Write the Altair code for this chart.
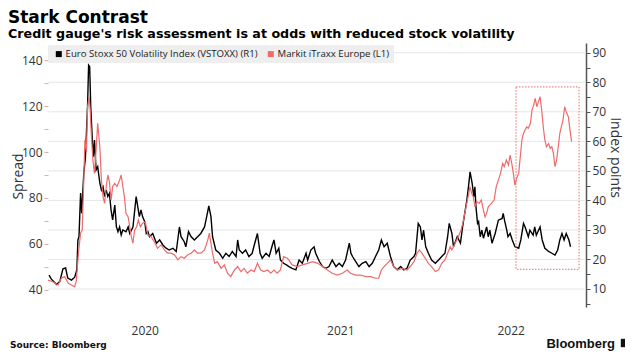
import altair as alt
import pandas as pd

# ---------------- data ----------------
vstoxx = [
("2020-01-03",14.7),("2020-01-07",13.4),("2020-01-17",11.5),("2020-01-23",12.5),("2020-01-29",16.8),("2020-02-03",17.1),("2020-02-07",13.7),("2020-02-14",13.0),("2020-02-20",14.0),("2020-02-24",16.5),("2020-02-26",26.6),("2020-02-28",27.7),("2020-03-02",42.5),("2020-03-04",35.7),("2020-03-08",49.3),("2020-03-11",54.4),("2020-03-15",71.7),("2020-03-17",85.8),("2020-03-19",85.3),("2020-03-21",71.7),("2020-03-24",60.4),("2020-03-26",54.8),("2020-03-28",60.4),("2020-03-31",50.3),("2020-04-03",51.4),("2020-04-07",45.9),("2020-04-10",43.5),("2020-04-13",44.6),("2020-04-16",41.3),("2020-04-19",43.5),("2020-04-22",41.3),("2020-04-25",42.4),("2020-04-28",36.8),("2020-05-01",33.4),("2020-05-05",38.4),("2020-05-08",31.1),("2020-05-11",29.4),("2020-05-14",31.0),("2020-05-17",28.3),("2020-05-20",30.0),("2020-05-26",29.4),("2020-05-30",31.0),("2020-06-02",28.8),("2020-06-08",31.0),("2020-06-14",41.3),("2020-06-17",37.9),("2020-06-20",34.5),("2020-06-23",36.8),("2020-06-26",34.5),("2020-06-30",32.8),("2020-07-03",28.8),("2020-07-06",29.4),("2020-07-09",27.7),("2020-07-15",28.8),("2020-07-22",25.5),("2020-07-28",26.6),("2020-08-03",24.9),("2020-08-09",23.8),("2020-08-15",23.2),("2020-08-22",23.8),("2020-08-28",22.7),("2020-09-03",31.0),("2020-09-06",27.7),("2020-09-12",26.0),("2020-09-15",24.3),("2020-09-20",29.4),("2020-09-25",27.7),("2020-10-01",26.6),("2020-10-07",27.7),("2020-10-13",28.8),("2020-10-20",31.0),("2020-10-24",34.5),("2020-10-28",38.1),("2020-11-01",34.5),("2020-11-04",27.7),("2020-11-10",23.2),("2020-11-17",22.1),("2020-11-23",20.4),("2020-11-29",22.1),("2020-12-05",21.0),("2020-12-11",22.7),("2020-12-18",21.0),("2020-12-21",26.6),("2020-12-24",23.2),("2020-12-30",22.1),
("2021-01-05",23.2),("2021-01-11",21.0),("2021-01-17",22.0),("2021-01-22",25.5),("2021-01-27",28.8),("2021-02-01",22.1),("2021-02-05",20.4),("2021-02-12",22.1),("2021-02-18",21.0),("2021-02-24",24.9),("2021-02-27",26.6),("2021-03-03",22.1),("2021-03-08",23.8),("2021-03-11",19.8),("2021-03-17",18.7),("2021-03-23",18.1),("2021-03-27",17.6),("2021-04-02",17.0),("2021-04-09",16.5),("2021-04-15",19.8),("2021-04-21",18.7),("2021-04-28",22.1),("2021-05-01",19.8),("2021-05-07",23.2),("2021-05-13",24.3),("2021-05-16",22.1),("2021-05-23",19.3),("2021-05-29",17.6),("2021-06-04",17.0),("2021-06-10",17.6),("2021-06-16",19.8),("2021-06-23",17.6),("2021-06-29",18.7),("2021-07-05",17.6),("2021-07-11",19.8),("2021-07-18",25.5),("2021-07-21",22.1),("2021-07-24",21.0),("2021-07-30",19.3),("2021-08-05",17.6),("2021-08-11",18.7),("2021-08-18",19.3),("2021-08-24",17.6),("2021-08-30",18.7),("2021-09-05",21.0),("2021-09-11",23.2),("2021-09-16",26.6),("2021-09-21",24.3),("2021-09-27",25.5),("2021-10-03",21.0),("2021-10-09",17.6),("2021-10-16",16.5),("2021-10-22",17.6),("2021-10-28",16.5),("2021-11-03",17.0),("2021-11-09",19.8),("2021-11-16",21.0),("2021-11-19",22.1),("2021-11-24",32.2),("2021-11-28",31.0),("2021-12-01",26.6),("2021-12-04",29.9),("2021-12-08",24.3),("2021-12-13",22.1),("2021-12-19",19.8),("2021-12-26",18.7),
("2022-01-01",19.8),("2022-01-07",21.0),("2022-01-13",22.1),("2022-01-18",27.7),("2022-01-21",32.2),("2022-01-26",28.8),("2022-01-29",24.3),("2022-02-05",27.7),("2022-02-11",25.5),("2022-02-15",31.0),("2022-02-19",35.6),("2022-02-23",40.1),("2022-02-26",44.6),("2022-03-01",49.7),("2022-03-05",45.7),("2022-03-08",41.3),("2022-03-10",44.6),("2022-03-12",37.9),("2022-03-15",32.2),("2022-03-17",32.8),("2022-03-20",27.7),("2022-03-23",29.9),("2022-03-26",27.2),("2022-04-01",31.0),("2022-04-04",27.7),("2022-04-07",29.9),("2022-04-11",25.5),("2022-04-17",28.8),("2022-04-23",33.3),("2022-04-30",33.9),("2022-05-02",35.6),("2022-05-05",32.8),("2022-05-08",30.5),("2022-05-11",27.7),("2022-05-15",28.8),("2022-05-19",26.6),("2022-05-24",24.3),("2022-05-31",23.8),("2022-06-04",26.6),("2022-06-09",32.2),("2022-06-12",31.0),("2022-06-18",27.7),("2022-06-21",29.9),("2022-06-27",28.2),("2022-06-30",31.0),("2022-07-03",28.2),("2022-07-10",31.0),("2022-07-14",26.6),("2022-07-19",23.8),("2022-07-26",22.7),("2022-08-01",22.1),("2022-08-07",21.5),("2022-08-12",23.2),("2022-08-16",26.6),("2022-08-20",28.8),("2022-08-24",26.6),("2022-08-28",28.8),("2022-09-02",26.6),("2022-09-05",24.3)]

itraxx = [
("2020-01-01",44.3),("2020-01-10",43.6),("2020-01-20",42.2),("2020-01-26",45.1),("2020-02-01",45.8),("2020-02-08",42.9),("2020-02-14",42.2),("2020-02-20",41.4),("2020-02-23",44.0),("2020-02-27",56.0),("2020-03-02",64.7),("2020-03-05",66.0),("2020-03-08",87.8),("2020-03-10",105.2),("2020-03-13",100.0),("2020-03-15",119.7),("2020-03-18",124.0),("2020-03-20",118.3),("2020-03-22",108.1),("2020-03-25",96.5),("2020-03-28",90.7),("2020-03-31",100.9),("2020-04-03",112.5),("2020-04-07",102.3),("2020-04-10",87.8),("2020-04-13",80.6),("2020-04-16",77.7),("2020-04-19",84.9),("2020-04-22",90.0),("2020-04-25",87.0),("2020-04-28",79.1),("2020-05-01",84.9),("2020-05-05",86.4),("2020-05-09",85.0),("2020-05-14",87.7),("2020-05-17",90.0),("2020-05-20",85.0),("2020-05-23",80.6),("2020-05-26",73.3),("2020-05-30",71.8),("2020-06-02",67.5),("2020-06-05",63.2),("2020-06-08",60.3),("2020-06-11",66.0),("2020-06-15",67.5),("2020-06-18",70.4),("2020-06-22",67.5),("2020-06-26",69.0),("2020-07-01",69.6),("2020-07-06",63.9),("2020-07-12",63.2),("2020-07-18",61.0),("2020-07-24",58.1),("2020-07-31",59.6),("2020-08-06",57.4),("2020-08-12",56.0),("2020-08-18",56.0),("2020-08-25",55.2),("2020-08-31",53.1),("2020-09-06",54.5),("2020-09-12",53.8),("2020-09-18",55.2),("2020-09-25",56.0),("2020-10-01",57.4),("2020-10-07",56.0),("2020-10-13",56.0),("2020-10-20",57.4),("2020-10-26",61.7),("2020-10-29",64.7),("2020-11-01",60.3),("2020-11-04",56.0),("2020-11-08",51.6),("2020-11-13",52.3),("2020-11-20",49.4),("2020-11-26",50.9),("2020-12-02",47.3),("2020-12-08",45.8),("2020-12-15",48.7),("2020-12-21",50.2),("2020-12-27",48.0),
("2021-01-02",49.4),("2021-01-08",47.3),("2021-01-15",48.7),("2021-01-21",48.0),("2021-01-27",51.6),("2021-02-02",48.7),("2021-02-08",48.0),("2021-02-15",48.7),("2021-02-21",47.3),("2021-02-27",48.7),("2021-03-05",47.3),("2021-03-11",48.7),("2021-03-17",54.5),("2021-03-24",53.8),("2021-03-27",53.0),("2021-04-02",50.9),("2021-04-12",50.2),("2021-04-21",50.9),("2021-05-01",51.6),("2021-05-10",52.3),("2021-05-20",51.6),("2021-05-29",50.2),("2021-06-07",48.7),("2021-06-16",47.3),("2021-06-25",46.5),("2021-07-05",47.3),("2021-07-14",48.7),("2021-07-20",47.3),("2021-07-30",46.5),("2021-08-08",46.5),("2021-08-18",45.8),("2021-08-27",45.8),("2021-09-05",45.1),("2021-09-11",45.1),("2021-09-16",48.7),("2021-09-21",50.2),("2021-09-27",51.6),("2021-10-03",53.1),("2021-10-09",50.2),("2021-10-16",48.7),("2021-10-25",49.4),("2021-11-03",48.7),("2021-11-09",50.2),("2021-11-16",52.3),("2021-11-22",56.0),("2021-11-26",57.4),("2021-12-01",56.0),("2021-12-07",53.8),("2021-12-13",51.6),("2021-12-19",50.2),("2021-12-26",48.0),
("2022-01-01",48.7),("2022-01-07",51.6),("2022-01-13",53.1),("2022-01-18",56.0),("2022-01-23",58.8),("2022-01-26",57.4),("2022-02-01",60.3),("2022-02-07",63.2),("2022-02-12",66.0),("2022-02-16",69.6),("2022-02-19",73.3),("2022-02-24",79.1),("2022-03-01",84.9),("2022-03-04",82.0),("2022-03-07",80.6),("2022-03-10",76.2),("2022-03-13",78.4),("2022-03-18",77.7),("2022-03-22",79.1),("2022-03-26",74.7),("2022-03-29",71.8),("2022-04-01",73.3),("2022-04-04",76.2),("2022-04-10",77.7),("2022-04-15",79.1),("2022-04-19",84.9),("2022-04-23",87.8),("2022-04-27",90.7),("2022-05-01",95.1),("2022-05-04",93.6),("2022-05-08",96.5),("2022-05-12",94.3),("2022-05-15",98.7),("2022-05-18",95.1),("2022-05-21",90.7),("2022-05-24",85.6),("2022-05-27",88.5),("2022-05-31",90.7),("2022-06-03",98.0),("2022-06-06",105.2),("2022-06-09",108.1),("2022-06-12",109.6),("2022-06-15",111.0),("2022-06-18",110.3),("2022-06-22",112.5),("2022-06-25",118.3),("2022-06-28",120.4),("2022-07-01",123.3),("2022-07-04",119.7),("2022-07-07",121.9),("2022-07-10",124.0),("2022-07-13",118.3),("2022-07-16",111.0),("2022-07-19",105.2),("2022-07-22",102.3),("2022-07-26",103.7),("2022-07-29",101.6),("2022-08-01",102.3),("2022-08-04",99.4),("2022-08-07",93.6),("2022-08-10",96.5),("2022-08-13",102.3),("2022-08-16",108.1),("2022-08-19",111.0),("2022-08-22",113.9),("2022-08-25",119.7),("2022-08-28",117.5),("2022-09-01",115.3),("2022-09-04",109.6),("2022-09-07",104.5)]

series_names = ["Euro Stoxx 50 Volatility Index (VSTOXX) (R1)", "Markit iTraxx Europe (L1)"]
series_colors = ["#000000", "#ee6b6b"]

year_labels = ["2020", "2021", "2022"]
year_mid_dates = ["2020-07-01", "2021-07-02", "2022-05-17"]

left_ticks = [40, 50, 60, 70, 80, 90, 100, 110, 120, 130, 140]
right_ticks = [5, 10, 15, 20, 25, 30, 35, 40, 45, 50, 55, 60, 65, 70, 75, 80, 85, 90]
right_grid = [10, 20, 30, 40, 50, 60, 70, 80, 90]

box_dates = ["2022-05-26", "2022-09-21"]
box_spread = [49.0, 128.3]

LEFT_DOMAIN = [32.6, 147.4]
RIGHT_DOMAIN = [3.9, 93.3]

W, H = 538, 264
FONT = "Open Sans"

# ---------------- frames ----------------
vst_df = pd.DataFrame(vstoxx, columns=["date", "value"])
itx_df = pd.DataFrame(itraxx, columns=["date", "value"])
legend_df = pd.DataFrame({"series": series_names})
year_df = pd.DataFrame({"label": year_labels, "date": year_mid_dates})
grid_df = pd.DataFrame({"v": right_grid})
box_df = pd.DataFrame({"d1": [box_dates[0]], "d2": [box_dates[1]], "y1": [box_spread[0]], "y2": [box_spread[1]]})

quarters = [alt.DateTime(year=y, month=m, date=1, utc=True) for y in (2020, 2021, 2022) for m in (1, 4, 7, 10) if not (y == 2022 and m == 10)]
xscale = alt.Scale(domain=[alt.DateTime(year=2020, month=1, date=1, utc=True),
                           alt.DateTime(year=2022, month=10, date=4, utc=True)], nice=False)

x_enc = alt.X("date:T", scale=xscale,
              axis=alt.Axis(values=quarters, labels=False, domain=False, grid=True,
                            gridColor="#e6e6e6", tickColor="#e6e6e6", tickSize=4, title=None))

right_scale = alt.Scale(domain=RIGHT_DOMAIN, nice=False, zero=False)
left_scale = alt.Scale(domain=LEFT_DOMAIN, nice=False, zero=False)

grid = alt.Chart(grid_df).mark_rule(color="#e6e6e6", strokeWidth=1).encode(
    y=alt.Y("v:Q", scale=right_scale, axis=None)
)

black = alt.Chart(vst_df).mark_line(color=series_colors[0], strokeWidth=1.4).encode(
    x=x_enc,
    y=alt.Y("value:Q", scale=right_scale,
            axis=alt.Axis(orient="right", values=right_ticks,
                          labelExpr="datum.value % 10 == 0 ? datum.label : ''",
                          grid=False, domain=True, domainColor="#555555", domainWidth=1.5,
                          tickColor="#555555", tickSize=4, labelFont=FONT, labelFontSize=12,
                          labelColor="#333333", labelPadding=2,
                          title="Index points", titleFont=FONT, titleFontSize=14,
                          titleFontWeight="normal", titleColor="#333333", titleAngle=90,
                          titleX=28, titleY=114, titleBaseline="middle"))
)

red = alt.Chart(itx_df).mark_line(color=series_colors[1], strokeWidth=1.2).encode(
    x=alt.X("date:T", scale=xscale, axis=None),
    y=alt.Y("value:Q", scale=left_scale,
            axis=alt.Axis(orient="left", values=left_ticks,
                          labelExpr="datum.value % 20 == 0 ? datum.label : ''",
                          grid=False, domain=False, tickColor="#f3a5a5", tickSize=4,
                          labelFont=FONT, labelFontSize=12, labelColor="#333333", labelPadding=2,
                          title="Spread", titleFont=FONT, titleFontSize=14, titleFontWeight="normal",
                          titleColor="#333333", titleAngle=-90, titleX=-30, titleY=133,
                          titleBaseline="middle"))
)

box = alt.Chart(box_df).mark_rect(fill=None, fillOpacity=0, stroke="#ee6b6b", strokeWidth=1,
                                  strokeDash=[1.5, 1.5]).encode(
    x=alt.X("d1:T", scale=xscale, axis=None), x2="d2:T",
    y=alt.Y("y1:Q", scale=left_scale, axis=None), y2="y2:Q"
)

legend_layer = alt.Chart(legend_df).mark_square(opacity=0, size=36).encode(
    color=alt.Color("series:N",
                    scale=alt.Scale(domain=series_names, range=series_colors),
                    legend=alt.Legend(title=None, orient="none", legendX=0, legendY=2,
                                      direction="horizontal", fillColor="#eeeeee",
                                      padding=4, symbolType="square", symbolSize=36,
                                      symbolOpacity=1, symbolStrokeWidth=0,
                                      labelFont=FONT, labelFontSize=9.6, labelColor="#222222",
                                      labelLimit=0, columnPadding=6, symbolOffset=2,
                                      labelOffset=2))
)

years = alt.Chart(year_df).mark_text(font=FONT, fontSize=12, color="#333333", baseline="middle").encode(
    x=alt.X("date:T", scale=xscale, axis=None),
    text="label:N",
    y=alt.value(288)
)

source = alt.Chart(pd.DataFrame({"t": ["Source: Bloomberg"]})).mark_text(
    font="DejaVu Sans", fontWeight="bold", fontSize=9, align="left", baseline="middle", color="#111111"
).encode(text="t:N", x=alt.value(-38), y=alt.value(302))

brand = alt.Chart(pd.DataFrame({"t": ["Bloomberg"]})).mark_text(
    font="Liberation Sans", fontWeight="bold", fontSize=13, align="right", baseline="middle", color="#111111"
).encode(text="t:N", x=alt.value(567), y=alt.value(301))

logo = alt.Chart(pd.DataFrame({"t": ["x"]})).mark_square(size=70, color="#111111", opacity=1).encode(
    x=alt.value(577), y=alt.value(300)
)

chart = alt.layer(grid, black, red, box, legend_layer, years, source, brand, logo).resolve_scale(
    y="independent"
).resolve_axis(y="independent").properties(
    width=W, height=H,
    autosize=alt.AutoSizeParams(type="none"),
    padding={"left": 40, "top": 35, "right": 39, "bottom": 48},
    title=alt.Title(text="Stark Contrast",
                    subtitle="Credit gauge's risk assessment is at odds with reduced stock volatility",
                    anchor="start", frame="group", dx=-40, offset=1,
                    font="DejaVu Sans", fontSize=17, fontWeight="bold", color="#000000",
                    subtitleFont="DejaVu Sans", subtitleFontSize=12.7, subtitleFontWeight="bold",
                    subtitleColor="#000000", subtitlePadding=1)
).configure_view(stroke=None)

chart.save("out.html", embed_options={"renderer": "svg", "actions": False})
